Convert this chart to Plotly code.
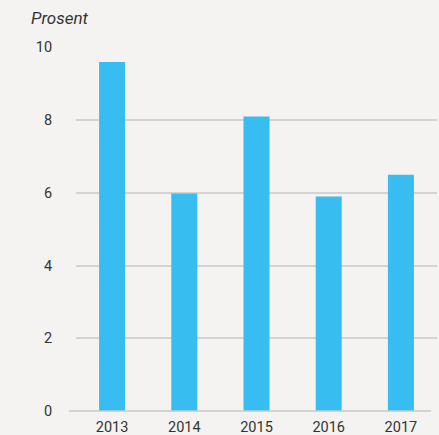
import plotly.graph_objects as go

years = ["2013", "2014", "2015", "2016", "2017"]
values = [9.6, 5.98, 8.1, 5.9, 6.5]
yticks = [0, 2, 4, 6, 8, 10]

fig = go.Figure(go.Bar(x=years, y=values, marker=dict(color="#38bdf0", line=dict(width=0))))

fig.update_layout(
    width=439, height=435,
    margin=dict(l=76, r=2, t=47, b=24, autoexpand=False),
    paper_bgcolor="#f4f3f1", plot_bgcolor="#f4f3f1",
    bargap=0.64,
    font=dict(family="Roboto", size=14.5, color="#333333"),
    showlegend=False,
    annotations=[dict(text="<i>Prosent</i>", xref="paper", yref="paper", x=-0.13, y=1.0, yshift=29,
                      xanchor="left", yanchor="middle", showarrow=False,
                      font=dict(size=17, color="#333333"))],
    shapes=[dict(type="line", xref="paper", yref="paper", x0=-0.02, x1=0.983, y0=0, y1=0,
                 line=dict(color="#c8c8c8", width=1.5), layer="above")],
)
fig.update_xaxes(showgrid=False, showline=False, automargin=False,
                 ticks="outside", ticklen=3, tickcolor="rgba(0,0,0,0)", zeroline=False)
fig.update_yaxes(range=[0, 10.01], tickvals=yticks, showgrid=True, gridcolor="#d3d3d3", gridwidth=1.5,
                 automargin=False,
                 zeroline=False, showline=False, ticks="outside", ticklen=20, tickcolor="rgba(0,0,0,0)")
fig.write_html("out.html", config={"displayModeBar": False},
               post_script="document.body.style.margin='0';document.body.style.background='#f4f3f1';")
